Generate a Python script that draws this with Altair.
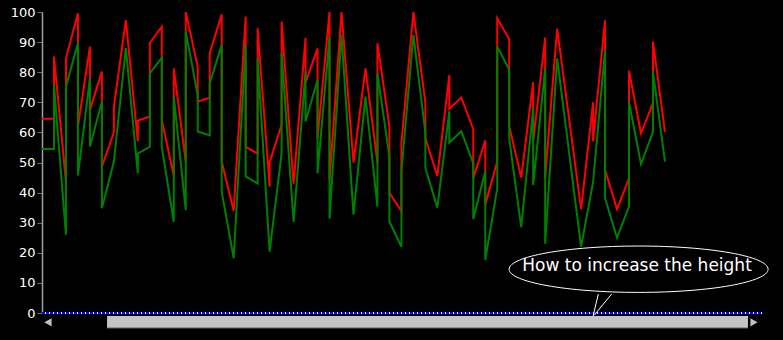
import altair as alt
import pandas as pd

# ---- data (x = sample index, vertical jumps = repeated index) ----
k_pos = [0, 1, 1, 2, 2, 3, 3, 4, 4, 5, 5, 6, 6, 7, 8, 8, 9, 9, 10, 10, 11, 11, 12, 12,
         13, 13, 14, 14, 15, 15, 16, 17, 17, 18, 18, 19, 19, 20, 20, 21, 22, 22, 23, 23,
         24, 24, 25, 26, 27, 28, 28, 29, 29, 30, 30, 31, 32, 32, 33, 34, 34, 35, 36, 36,
         37, 37, 38, 38, 39, 39, 40, 41, 41, 42, 42, 43, 45, 46, 46, 47, 47, 48, 49, 49,
         50, 51, 51, 52]
red_vals = [64.5, 64.5, 85.2, 43.6, 84.6, 99.6, 62, 88.5, 67.4, 80.2, 48.6, 60, 68.5, 97.3,
            57, 63.9, 65.3, 89.7, 95.1, 64.1, 45.6, 81.3, 50.3, 100, 81.8, 70.2, 71.5, 86.3,
            99.2, 50.3, 34, 98.5, 55.2, 53, 94.6, 42, 50, 62.5, 96.8, 43, 91.4, 76.5, 87.9, 58,
            100, 44, 100, 50, 81.3, 50, 89.6, 62, 39.9, 33.8, 56.4, 100, 70, 58, 45.5, 79, 67.8,
            71.6, 61.1, 44.7, 57.4, 36, 50.3, 97.9, 91, 62, 45, 76.7, 57, 91.5, 45, 94.5, 34.5,
            70, 57, 97.3, 47.5, 34.5, 44.7, 80.5, 59.7, 69.7, 90.2, 60.2]
green_vals = [54.5, 54.5, 75.7, 26, 75.2, 89.6, 45.7, 78, 55.3, 70.2, 34.8, 50.3, 50.3, 88,
              46.4, 53, 55.2, 79.6, 84.8, 55.2, 30.3, 71.9, 34.2, 93.5, 72.4, 60.3, 59, 76.3,
              89, 40.3, 18.2, 89, 45.4, 43, 84.6, 20.4, 20.4, 53, 86.5, 30.3, 80.2, 63.6, 77.4,
              46.4, 91.8, 31.3, 92.4, 32.7, 71.9, 35.4, 79.6, 52, 30.4, 22, 47, 92.4, 60, 48.2,
              35, 67, 56.6, 60.4, 49.6, 31.2, 47, 17.6, 41.4, 88.5, 80.8, 58, 28.5, 68, 42.5,
              81.3, 23, 84.6, 22, 43.5, 43.5, 87.4, 38.1, 25, 35.4, 70, 49.5, 60.2, 80.2, 50.3]
y_ticks = list(range(0, 101, 10))
callout_text = "How to increase the height"

X_MAX = 60.1

rows = []
for name, vals in (("red", red_vals), ("green", green_vals)):
    for i, (k, v) in enumerate(zip(k_pos, vals)):
        rows.append({"series": name, "i": i, "x": k, "y": v})
df = pd.DataFrame(rows)

xenc = alt.X("x:Q", scale=alt.Scale(domain=[0, X_MAX], nice=False, zero=False), axis=None)
yenc = alt.Y("y:Q", scale=alt.Scale(domain=[0, 100], nice=False),
             axis=alt.Axis(values=y_ticks, title=None, grid=False, labelColor="white",
                           labelFont="DejaVu Sans", labelFontSize=13, tickColor="#707070",
                           tickSize=5, labelPadding=2, domainColor="#a0a0a0", domainWidth=1.5,
                           labelFlush=False))

red_line = alt.Chart(df[df.series == "red"]).mark_line(color="#ff0000", strokeWidth=2).encode(
    x=xenc, y=yenc, order="i:Q")
green_line = alt.Chart(df[df.series == "green"]).mark_line(color="#008000", strokeWidth=2).encode(
    x=xenc, y=yenc, order="i:Q")

base_df = pd.DataFrame({"x": [0], "x2": [X_MAX], "y": [0]})
zero_white = alt.Chart(base_df).mark_rule(color="white", strokeWidth=2).encode(
    x=xenc, x2="x2:Q", y=yenc)
zero_blue = alt.Chart(base_df).mark_rule(color="#0000ff", strokeWidth=2, strokeDash=[3, 1]).encode(
    x=xenc, x2="x2:Q", y=yenc)

# scrollbar
sb_df = pd.DataFrame({"x": [5.43], "x2": [58.93], "y": [-1.0], "y2": [-4.95]})
scrollbar = alt.Chart(sb_df).mark_rect(color="#c4c4c4").encode(x=xenc, x2="x2:Q", y=yenc, y2="y2:Q")
sb_edge_df = pd.DataFrame({"x": [5.43], "x2": [58.93], "y": [-5.0]})
sb_edge = alt.Chart(sb_edge_df).mark_rule(color="#5a5a5a", strokeWidth=1).encode(
    x=xenc, x2="x2:Q", y=yenc)
arrows_df = pd.DataFrame({"x": [0.5, 59.43], "y": [-3.1, -3.1],
                          "shape": ["triangle-left", "triangle-right"]})
arrows = alt.Chart(arrows_df).mark_point(filled=True, color="#c0c0c0", opacity=1, size=70).encode(
    x=xenc, y=yenc, shape=alt.Shape("shape:N", scale=None, legend=None))

# callout balloon
r = 0.179
c = 0.5523
ellipse_path = (f"M -1 0 C -1 {-c*r:.4f} {-c:.4f} {-r} 0 {-r} C {c:.4f} {-r} 1 {-c*r:.4f} 1 0 "
                f"C 1 {c*r:.4f} {c:.4f} {r} 0 {r} C {-c:.4f} {r} -1 {c*r:.4f} -1 0 Z")
ell_df = pd.DataFrame({"x": [49.8], "y": [14.55]})
ellipse = alt.Chart(ell_df).mark_point(shape=ellipse_path, size=259 ** 2, filled=True,
                                       fill="black", stroke="white", strokeWidth=1,
                                       opacity=1, fillOpacity=1, strokeOpacity=1).encode(
    x=xenc, y=yenc)
txt_df = pd.DataFrame({"x": [49.67], "y": [13.95], "t": [callout_text]})
text = alt.Chart(txt_df).mark_text(color="white", font="DejaVu Sans", fontSize=17,
                                   align="center", baseline="alphabetic").encode(
    x=xenc, y=yenc, text="t:N")
ptr_df = pd.DataFrame({"x": [46.44, 47.55], "x2": [46.0, 46.1], "y": [6.3, 6.3], "y2": [-1.0, -0.7]})
pointer = alt.Chart(ptr_df).mark_rule(color="white", strokeWidth=1).encode(
    x=xenc, x2="x2:Q", y=yenc, y2="y2:Q")

chart = alt.layer(red_line, green_line, zero_white, zero_blue, scrollbar, sb_edge, arrows,
                  ellipse, text, pointer).properties(
    width=720, height=301,
    padding={"left": 42, "top": 12, "right": 21, "bottom": 27},
    autosize=alt.AutoSizeParams(type="none"),
).configure(background="black").configure_view(stroke=None)

chart.save("out.html", embed_options={"renderer": "svg", "actions": False})
